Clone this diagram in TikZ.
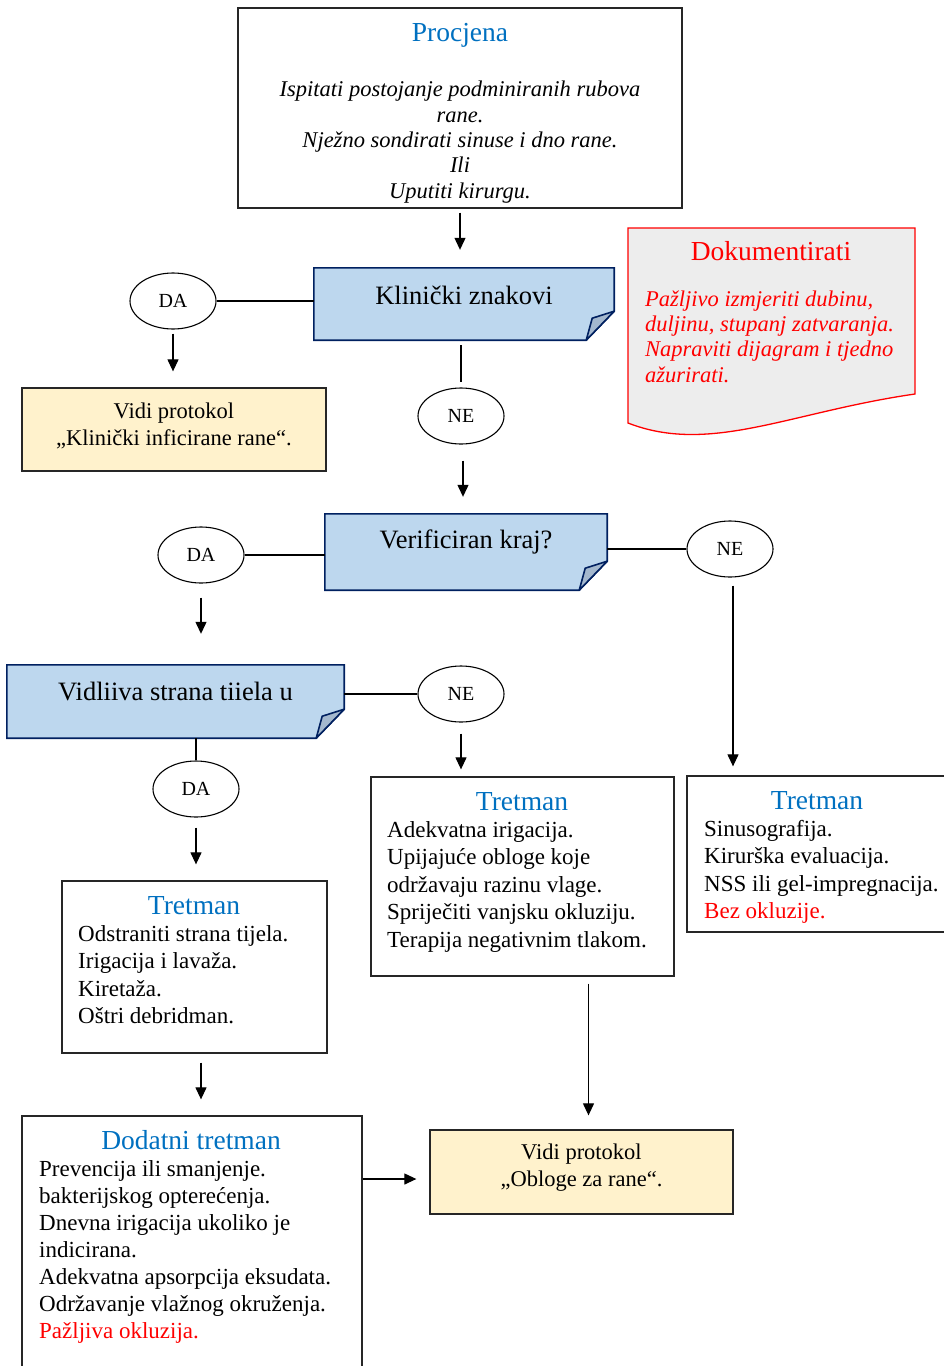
\documentclass[tikz,border=0pt]{standalone}
\usepackage{fontspec}
\setmainfont{Liberation Serif}
\usetikzlibrary{shapes.geometric,arrows.meta,positioning,calc,backgrounds}

\definecolor{ttlblue}{RGB}{0,112,192}
\definecolor{boxblue}{RGB}{189,215,238}
\definecolor{navy}{RGB}{0,32,96}
\definecolor{flapblue}{RGB}{164,184,206}
\definecolor{protyellow}{RGB}{255,242,204}
\definecolor{docred}{RGB}{255,0,0}
\definecolor{docgray}{RGB}{237,237,237}

\begin{document}
\begin{tikzpicture}[
    x=1pt, y=-1pt,
    frame/.style={rectangle, draw=black!85, line width=1.3pt, inner sep=0pt},
    prot/.style={frame, fill=protyellow},
    ans/.style={ellipse, draw, line width=1.1pt, minimum width=86pt, minimum height=56pt, inner sep=0pt, font=\fontsize{20}{22}\selectfont},
    quest/.style={rectangle, inner sep=0pt, font=\fontsize{26.5}{30}\selectfont},
    foldbox/.style={fill=boxblue, draw=navy, line width=1.6pt, line join=miter},
    flap/.style={fill=flapblue, draw=navy, line width=1.6pt, line join=round},
    ttl/.style={text=ttlblue, font=\fontsize{27.5}{30}\selectfont, anchor=base, inner sep=0pt},
    lst/.style={font=\fontsize{23}{27.5}\selectfont, align=left, anchor=north west, inner sep=0pt},
    ctr/.style={font=\fontsize{22.5}{27}\selectfont, align=center, inner sep=0pt},
    arr/.style={-{Triangle[length=12pt,width=11pt]}, line width=1.2pt},
    ln/.style={line width=1.2pt}
]
    \useasboundingbox (0,0) rectangle (943,1366);

    % Procjena
    \node [frame, minimum width=444pt, minimum height=200pt] (proc) at (460,108) {};
    \node [ttl] (procT) at (460,41) {Procjena};
    \node [ctr, font=\fontsize{22.5}{25.3}\selectfont\itshape] (procL) at (460,142)
        {Ispitati postojanje podminiranih rubova\\rane.\\Nježno sondirati sinuse i dno rane.\\Ili\\Uputiti kirurgu.};

    % pitanja
    \node [quest, text height=36pt, text depth=36pt, minimum width=300pt] (klin) at (464,304) {Klinički znakovi};
    \node [quest, text height=34pt, text depth=42pt, minimum width=282pt] (verif) at (466,552) {Verificiran kraj?};
    \node [quest, text height=35pt, text depth=38pt, minimum width=337pt] (vidlj) at (175.5,701.5) {Vidliiva strana tiiela u};

    \begin{scope}[on background layer]
    \foreach \q in {klin,verif,vidlj} {
        \filldraw [foldbox] (\q.north west) -- (\q.north east) -- ([yshift=29pt]\q.south east)
            -- ([xshift=-28pt]\q.south east) -- (\q.south west) -- cycle;
        \filldraw [flap] ([yshift=29pt]\q.south east) -- ([xshift=-22pt,yshift=22pt]\q.south east)
            -- ([xshift=-28pt]\q.south east) -- cycle;
    }
    \end{scope}

    % Dokumentirati
    \filldraw [fill=docgray, draw=docred, line width=1.3pt]
        (628,228) -- (915,228) -- (915,394) .. controls (790,412) and (710,455) .. (628,423) -- cycle;
    \node [ttl, text=docred] (dokT) at (771,260) {Dokumentirati};
    \node [lst, text=docred, font=\fontsize{22.5}{25.3}\selectfont\itshape] (dokL) at (645,290.5)
        {Pažljivo izmjeriti dubinu,\\duljinu, stupanj zatvaranja.\\Napraviti dijagram i tjedno\\ažurirati.};

    % odgovori
    \node [ans] (da1) at (173,301) {DA};
    \node [ans] (ne1) at (461,416) {NE};
    \node [ans] (da2) at (201,555) {DA};
    \node [ans] (ne2) at (730,549) {NE};
    \node [ans] (ne3) at (461,694) {NE};
    \node [ans] (da3) at (196,789) {DA};

    % protokoli
    \node [prot, minimum width=304pt, minimum height=83pt] (vidi1) at (174,429.5) {};
    \node [ctr] (vidi1T) at (174,425.5) {Vidi protokol\\„Klinički inficirane rane“.};
    \node [prot, minimum width=303pt, minimum height=84pt] (vidi2) at (581.5,1172) {};
    \node [ctr] (vidi2T) at (581.5,1168) {Vidi protokol\\„Obloge za rane“.};

    % tretmani
    \node [frame, minimum width=265pt, minimum height=172pt] (tretA) at (194.5,967) {};
    \node [ttl] (tretAT) at (194,914) {Tretman};
    \node [lst] (tretAL) at (78,925)
        {Odstraniti strana tijela.\\Irigacija i lavaža.\\Kiretaža.\\Oštri debridman.};

    \node [frame, minimum width=303pt, minimum height=199pt] (tretB) at (522.5,876.5) {};
    \node [ttl] (tretBT) at (522,810) {Tretman};
    \node [lst] (tretBL) at (387,821)
        {Adekvatna irigacija.\\Upijajuće obloge koje\\održavaju razinu vlage.\\Spriječiti vanjsku okluziju.\\Terapija negativnim tlakom.};

    \node [frame, minimum width=273pt, minimum height=156pt] (tretC) at (823.5,854) {};
    \node [ttl] (tretCT) at (817,809) {Tretman};
    \node [lst] (tretCL) at (704,820)
        {Sinusografija.\\Kirurška evaluacija.\\NSS ili gel-impregnacija.\\\textcolor{docred}{Bez okluzije.}};

    \node [frame, minimum width=340pt, minimum height=284pt] (dod) at (192,1258) {};
    \node [ttl] (dodT) at (191,1149) {Dodatni tretman};
    \node [lst, font=\fontsize{23}{27}\selectfont] (dodL) at (39,1160)
        {Prevencija ili smanjenje.\\bakterijskog opterećenja.\\Dnevna irigacija ukoliko je\\indicirana.\\Adekvatna apsorpcija eksudata.\\Održavanje vlažnog okruženja.\\\textcolor{docred}{Pažljiva okluzija.}};

    % veze
    \draw [arr, shorten <=4pt, shorten >=18pt] (proc.south) -- (proc.south |- klin.north);
    \draw [ln] (da1.east) -- (da1.east -| klin.west);
    \draw [arr, shorten <=4pt, shorten >=16pt] (da1.south) -- (da1.south |- vidi1.north);
    \draw [ln, shorten <=5pt, shorten >=5pt] (klin.south -| ne1.north) -- (ne1.north);
    \draw [arr, shorten <=16pt, shorten >=17pt] ([xshift=2pt]ne1.south) -- ([xshift=2pt]ne1.south |- verif.north);
    \draw [ln] (da2.east) -- (da2.east -| verif.west);
    \draw [ln] (ne2.west -| verif.east) -- (ne2.west);
    \draw [arr, shorten <=14pt, shorten >=31pt] (da2.south) -- (da2.south |- vidlj.north);
    \draw [arr, shorten <=8pt, shorten >=9pt] ([xshift=3pt]ne2.south) -- ([xshift=3pt]ne2.south |- tretC.north);
    \draw [ln] (ne3.west -| vidlj.east) -- (ne3.west);
    \draw [arr, shorten <=11pt, shorten >=7pt] (ne3.south) -- (ne3.south |- tretB.north);
    \draw [ln] (vidlj.south -| da3.north) -- (da3.north);
    \draw [arr, shorten <=10pt, shorten >=16pt] (da3.south) -- (da3.south |- tretA.north);
    \draw [arr, shorten <=9pt, shorten >=16pt] ([xshift=6.5pt]tretA.south) -- ([xshift=6.5pt]tretA.south |- dod.north);
    \draw [arr, shorten >=13pt] ([yshift=-7pt]vidi2.west -| dod.east) -- ([yshift=-7pt]vidi2.west);
    \draw [arr, shorten <=7pt, shorten >=14pt] ([xshift=7pt]vidi2.north |- tretB.south) -- ([xshift=7pt]vidi2.north);
\end{tikzpicture}
\end{document}
